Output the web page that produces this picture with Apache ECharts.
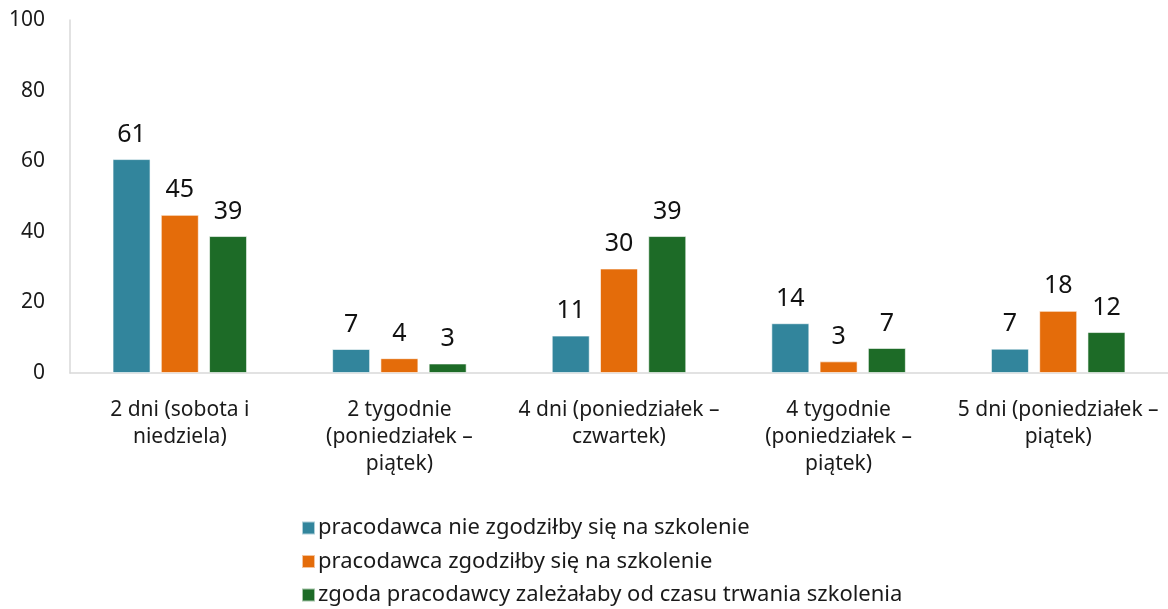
<!DOCTYPE html>
<html><head><meta charset="utf-8">
<script src="https://cdn.jsdelivr.net/npm/echarts@6/dist/echarts.min.js"></script>
<style>html,body{margin:0;padding:0;background:#fff}#c{width:1168px;height:609px}</style>
</head><body><div id="c"></div>
<script>
const categories = [
  "2 dni (sobota i\nniedziela)",
  "2 tygodnie\n(poniedziałek –\npiątek)",
  "4 dni (poniedziałek –\nczwartek)",
  "4 tygodnie\n(poniedziałek –\npiątek)",
  "5 dni (poniedziałek –\npiątek)"
];
const seriesNames = [
  "pracodawca nie zgodziłby się na szkolenie",
  "pracodawca zgodziłby się na szkolenie",
  "zgoda pracodawcy zależałaby od czasu trwania szkolenia"
];
const valuesNie = [60.6, 6.8, 10.6, 14.1, 6.9];
const valuesTak = [44.8, 4.2, 29.6, 3.3, 17.6];
const valuesZalezy = [38.8, 2.7, 38.8, 7.1, 11.6];
const yTicks = { min: 0, max: 100, interval: 20 };
const colors = ["#32859c", "#e46c0a", "#1d6b27"];

const font = "'Noto Sans', sans-serif";
const chart = echarts.init(document.getElementById('c'));
const mk = (name, data, color) => ({
  name, type: 'bar', data, barWidth: 38, barGap: '27%',
  itemStyle: { color, borderColor: 'rgba(255,255,255,0.6)', borderWidth: 1 },
  label: { show: true, position: 'top', distance: 12, color: '#111', fontSize: 25, fontFamily: font,
    formatter: p => Math.round(p.value) }
});
chart.setOption({
  animation: false,
  textStyle: { fontFamily: font },
  grid: { left: 70, right: 0, top: 20, bottom: 236 },
  legend: {
    orient: 'vertical', left: 296, top: 512, height: 110, itemWidth: 13, itemHeight: 13, itemGap: 11.5,
    icon: 'rect',
    textStyle: { fontSize: 22, lineHeight: 22, color: '#1a1a1a', fontFamily: font, padding: [0,0,0,-2] },
    data: seriesNames
  },
  xAxis: {
    type: 'category', data: categories,
    axisLine: { lineStyle: { color: '#d9d9d9', width: 1.5 } },
    axisTick: { show: false },
    axisLabel: { interval: 0, color: '#1a1a1a', fontSize: 21, lineHeight: 27, margin: 24, fontFamily: font }
  },
  yAxis: {
    type: 'value', min: yTicks.min, max: yTicks.max, interval: yTicks.interval,
    axisLine: { show: true, lineStyle: { color: '#d9d9d9', width: 1.5 } },
    axisTick: { show: false },
    splitLine: { show: false },
    axisLabel: { color: '#1a1a1a', fontSize: 21, margin: 25, fontFamily: font }
  },
  series: [
    mk(seriesNames[0], valuesNie, colors[0]),
    mk(seriesNames[1], valuesTak, colors[1]),
    mk(seriesNames[2], valuesZalezy, colors[2])
  ]
});
</script></body></html>
